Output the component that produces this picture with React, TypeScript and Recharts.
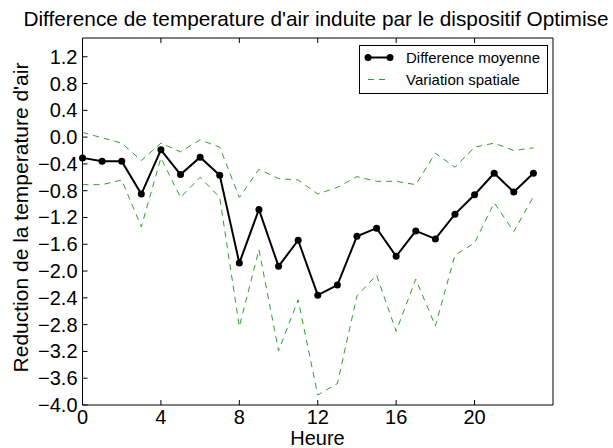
import React from 'react';
import { LineChart, Line, XAxis, YAxis, Label } from 'recharts';

const hours = [0, 1, 2, 3, 4, 5, 6, 7, 8, 9, 10, 11, 12, 13, 14, 15, 16, 17, 18, 19, 20, 21, 22, 23];
const meanDiff = [-0.31, -0.36, -0.36, -0.85, -0.19, -0.56, -0.30, -0.57, -1.88, -1.08, -1.93, -1.54, -2.36, -2.21, -1.48, -1.36, -1.78, -1.40, -1.52, -1.15, -0.86, -0.54, -0.82, -0.54];
const upperVar = [0.07, -0.01, -0.09, -0.35, -0.09, -0.22, -0.04, -0.15, -0.90, -0.48, -0.62, -0.64, -0.85, -0.75, -0.59, -0.66, -0.66, -0.71, -0.24, -0.45, -0.15, -0.09, -0.20, -0.16];
const lowerVar = [-0.71, -0.71, -0.64, -1.34, -0.31, -0.90, -0.60, -0.90, -2.83, -1.68, -3.19, -2.43, -3.85, -3.68, -2.37, -2.06, -2.90, -2.12, -2.82, -1.76, -1.58, -0.98, -1.41, -0.89];
const xTicks = [0, 4, 8, 12, 16, 20];
const yTicks = [-4.0, -3.6, -3.2, -2.8, -2.4, -2.0, -1.6, -1.2, -0.8, -0.4, 0.0, 0.4, 0.8, 1.2];

const titleText = "Difference de temperature d'air induite par le dispositif Optimise";
const xLabelText = 'Heure';
const yLabelText = "Reduction de la temperature d'air";
const legendMean = 'Difference moyenne';
const legendVar = 'Variation spatiale';

const data = hours.map((h, i) => ({ h, mean: meanDiff[i], up: upperVar[i], low: lowerVar[i] }));

const FONT = '"Liberation Sans", Arial, sans-serif';
const GREEN = '#2ca02c';

const fmtY = (v: number) => {
  const s = Math.abs(v).toFixed(1);
  return v < -1e-9 ? '\u2212' + s : s;
};

const BottomTick = (props: any) => {
  const { x, y, payload } = props;
  return (
    <g>
      <line x1={x} x2={x} y1={y} y2={y - 5} stroke="#000" strokeWidth={1} />
      <text x={x} y={y + 19} textAnchor="middle" fontSize={20} fontFamily={FONT} fill="#000">
        {payload.value}
      </text>
    </g>
  );
};

const TopTick = (props: any) => {
  const { x, y } = props;
  return <line x1={x} x2={x} y1={y} y2={y + 5} stroke="#000" strokeWidth={1} />;
};

const LeftTick = (props: any) => {
  const { x, y, payload } = props;
  return (
    <g>
      <line x1={x} x2={x + 5} y1={y} y2={y} stroke="#000" strokeWidth={1} />
      <text x={x - 5} y={y + 7} textAnchor="end" fontSize={20} fontFamily={FONT} fill="#000">
        {fmtY(payload.value)}
      </text>
    </g>
  );
};

const RightTick = (props: any) => {
  const { x, y } = props;
  return <line x1={x} x2={x - 5} y1={y} y2={y} stroke="#000" strokeWidth={1} />;
};

const LegendBox = () => (
  <g>
    <rect x={359.5} y={45.5} width={188} height={48} fill="#fff" stroke="#000" strokeWidth={1} />
    <line x1={368} x2={390} y1={57.5} y2={57.5} stroke="#000" strokeWidth={2} />
    <circle cx={368} cy={57.5} r={3.5} fill="#000" />
    <circle cx={390} cy={57.5} r={3.5} fill="#000" />
    <text x={406} y={63} fontSize={15} fontFamily={FONT} fill="#000">{legendMean}</text>
    <line x1={368} x2={390} y1={79.5} y2={79.5} stroke={GREEN} strokeWidth={1} strokeDasharray="6 5" />
    <text x={406} y={85} fontSize={15} fontFamily={FONT} fill="#000">{legendVar}</text>
  </g>
);

export default function App() {
  return (
    <div style={{ position: 'absolute', left: 0, top: 0, background: '#fff' }}>
      <LineChart width={613} height={448} data={data} margin={{ top: 37, right: 59, bottom: 0, left: 0 }}>
        <XAxis
          xAxisId="b"
          dataKey="h"
          type="number"
          domain={[0, 24]}
          ticks={xTicks}
          interval={0}
          height={43}
          tickSize={0}
          tickMargin={0}
          tickLine={false}
          axisLine={{ stroke: '#000', strokeWidth: 1 }}
          tick={<BottomTick />}
        >
          <Label
            content={() => (
              <text x={317.5} y={445} textAnchor="middle" fontSize={20} fontFamily={FONT} fill="#000">
                {xLabelText}
              </text>
            )}
          />
        </XAxis>
        <XAxis
          xAxisId="t"
          dataKey="h"
          type="number"
          orientation="top"
          domain={[0, 24]}
          ticks={xTicks}
          interval={0}
          height={1}
          tickSize={0}
          tickMargin={0}
          tickLine={false}
          axisLine={{ stroke: '#000', strokeWidth: 1 }}
          tick={<TopTick />}
        >
          <Label
            content={() => (
              <text x={316} y={26} textAnchor="middle" fontSize={20.8} fontFamily={FONT} fill="#000">
                {titleText}
              </text>
            )}
          />
        </XAxis>
        <YAxis
          yAxisId="l"
          type="number"
          domain={[-4, 1.48]}
          ticks={yTicks}
          interval={0}
          width={82.5}
          tickSize={0}
          tickMargin={0}
          tickLine={false}
          axisLine={{ stroke: '#000', strokeWidth: 1 }}
          tick={<LeftTick />}
        >
          <Label
            content={() => (
              <text
                x={0}
                y={0}
                transform="translate(28,217.5) rotate(-90)"
                textAnchor="middle"
                fontSize={21}
                fontFamily={FONT}
                fill="#000"
              >
                {yLabelText}
              </text>
            )}
          />
        </YAxis>
        <YAxis
          yAxisId="r"
          orientation="right"
          type="number"
          domain={[-4, 1.48]}
          ticks={yTicks}
          interval={0}
          width={1}
          tickSize={0}
          tickMargin={0}
          tickLine={false}
          axisLine={{ stroke: '#000', strokeWidth: 1 }}
          tick={<RightTick />}
        >
          <Label content={() => <LegendBox />} />
        </YAxis>
        <Line
          xAxisId="b"
          yAxisId="l"
          dataKey="up"
          stroke={GREEN}
          strokeWidth={1}
          strokeDasharray="6 5"
          dot={false}
          isAnimationActive={false}
        />
        <Line
          xAxisId="b"
          yAxisId="l"
          dataKey="low"
          stroke={GREEN}
          strokeWidth={1}
          strokeDasharray="6 5"
          dot={false}
          isAnimationActive={false}
        />
        <Line
          xAxisId="b"
          yAxisId="l"
          dataKey="mean"
          stroke="#000"
          strokeWidth={2}
          dot={{ r: 3.5, fill: '#000', stroke: '#000', strokeWidth: 0 }}
          isAnimationActive={false}
        />
      </LineChart>
    </div>
  );
}
